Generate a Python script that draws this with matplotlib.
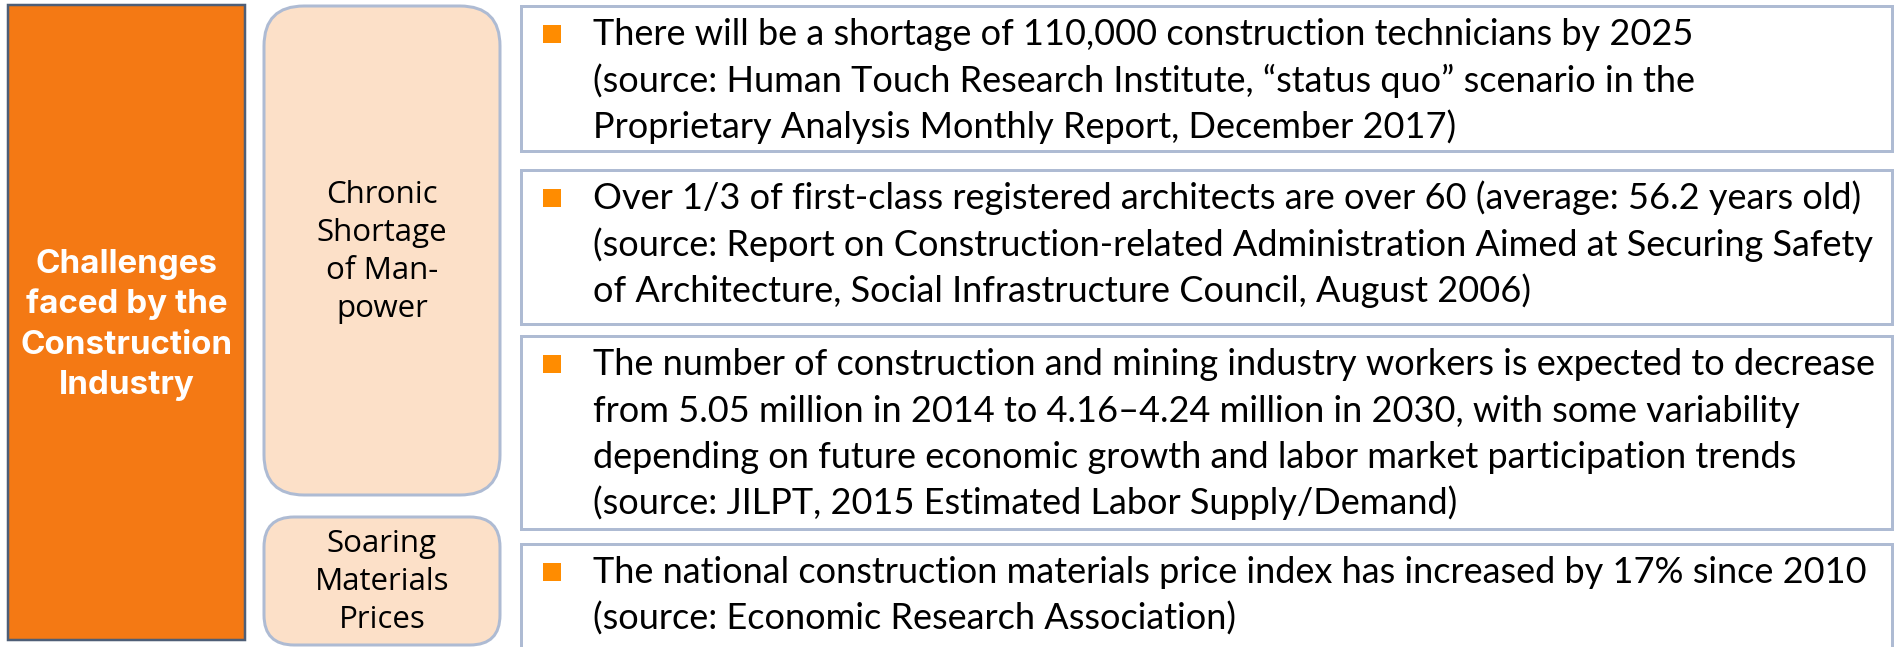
import matplotlib
matplotlib.use("Agg")
import matplotlib.pyplot as plt
from matplotlib.patches import Rectangle, FancyBboxPatch
from matplotlib import font_manager as fm
from matplotlib.font_manager import FontProperties

# ---------------- content ----------------
title_lines = ["Challenges", "faced by the", "Construction", "Industry"]
category_lines = [
    ["Chronic", "Shortage", "of Man-", "power"],
    ["Soaring", "Materials", "Prices"],
]
item_lines = [
    ["There will be a shortage of 110,000 construction technicians by 2025",
     "(source: Human Touch Research Institute, \u201cstatus quo\u201d scenario in the",
     "Proprietary Analysis Monthly Report, December 2017)"],
    ["Over 1/3 of first-class registered architects are over 60 (average: 56.2 years old)",
     "(source: Report on Construction-related Administration Aimed at Securing Safety",
     "of Architecture, Social Infrastructure Council, August 2006)"],
    ["The number of construction and mining industry workers is expected to decrease",
     "from 5.05 million in 2014 to 4.16\u20134.24 million in 2030, with some variability",
     "depending on future economic growth and labor market participation trends",
     "(source: JILPT, 2015 Estimated Labor Supply/Demand)"],
    ["The national construction materials price index has increased by 17% since 2010",
     "(source: Economic Research Association)"],
]

# ---------------- layout (pixels) ----------------
W, H, DPI = 1897, 647, 100
title_box = (8, 5, 245, 640)
category_boxes = [(264, 6, 500, 495), (264, 517, 500, 645)]
category_radius = [40, 30]
item_boxes = [(521, 6, 1892, 151), (521, 170, 1892, 324),
              (521, 336, 1892, 529), (521, 544, 1892, 655)]

ORANGE = "#F47914"
ORANGE_EDGE = "#4E5E76"
PEACH = "#FCE0C8"
BOX_EDGE = "#AEBBD3"
BULLET = "#FF8C00"

fig = plt.figure(figsize=(W / DPI, H / DPI), dpi=DPI)
ax = fig.add_axes([0, 0, 1, 1])
ax.set_xlim(0, W)
ax.set_ylim(H, 0)
ax.axis("off")
renderer = fig.canvas.get_renderer()
px2pt = 72 / DPI

SANS = {"DejaVu Sans", "Liberation Sans", "Liberation Sans Narrow", "Noto Sans",
        "Roboto", "Roboto Condensed", "Open Sans", "Open Sans Condensed",
        "Lato", "Inter", "DejaVu Sans Condensed"}


def width_px(s, fp):
    t = ax.text(0, 0, s, fontproperties=fp)
    w = t.get_window_extent(renderer).width
    t.remove()
    return w


def choose(sample, weight, target_w, target_em):
    """pick the installed sans face whose proportions best match, sized to target width"""
    want = target_w / target_em
    best = None
    for f in sorted(fm.fontManager.ttflist, key=lambda f: f.fname):
        if f.name not in SANS or f.style != "normal":
            continue
        try:
            fw = int(f.weight)
        except (TypeError, ValueError):
            fw = 700 if "bold" in str(f.weight).lower() else 400
        if abs(fw - weight) > 60:
            continue
        fp = FontProperties(fname=f.fname, size=10)
        ratio = width_px(sample, fp) / (10 / px2pt)
        score = abs(ratio - want) / want
        if best is None or score < best[0]:
            best = (score, f.fname, ratio)
    _, fname, ratio = best
    size_px = target_w / ratio
    return FontProperties(fname=fname, size=size_px * px2pt), size_px


fp_title, em_title = choose("Construction", 700, 212, 33)
fp_cat, em_cat = choose("Shortage", 400, 131, 31)
fp_body, em_body = choose(item_lines[1][0], 400, 1270, 38)

# title box
x0, y0, x1, y1 = title_box
ax.add_patch(Rectangle((x0, y0), x1 - x0, y1 - y0, facecolor=ORANGE,
                       edgecolor=ORANGE_EDGE, linewidth=2.5 * px2pt))
cx, cy, sp = (x0 + x1) / 2, (y0 + y1) / 2 - 1, 40.3
for i, line in enumerate(title_lines):
    yc = cy + (i - (len(title_lines) - 1) / 2) * sp
    ax.text(cx, yc + 0.36 * em_title, line, ha="center", va="baseline",
            color="white", fontproperties=fp_title)

# category boxes
for (x0, y0, x1, y1), r, lines in zip(category_boxes, category_radius, category_lines):
    ax.add_patch(FancyBboxPatch((x0, y0), x1 - x0, y1 - y0,
                                boxstyle=f"round,pad=0,rounding_size={r}",
                                facecolor=PEACH, edgecolor=BOX_EDGE,
                                linewidth=3 * px2pt))
    cx, cy, sp = (x0 + x1) / 2, (y0 + y1) / 2 - 2, 38
    for i, line in enumerate(lines):
        yc = cy + (i - (len(lines) - 1) / 2) * sp
        ax.text(cx, yc + 0.36 * em_cat, line, ha="center", va="baseline",
                color="black", fontproperties=fp_cat)

# item boxes
for (x0, y0, x1, y1), lines in zip(item_boxes, item_lines):
    ax.add_patch(Rectangle((x0, y0), x1 - x0, y1 - y0, facecolor="white",
                           edgecolor=BOX_EDGE, linewidth=3 * px2pt))
    ax.add_patch(Rectangle((543, y0 + 19), 18, 18, facecolor=BULLET,
                           edgecolor="none"))
    for i, line in enumerate(lines):
        ax.text(593, y0 + 39 + i * 46.5, line, ha="left", va="baseline",
                color="black", fontproperties=fp_body)

fig.savefig("out.png", dpi=DPI, facecolor="white")
